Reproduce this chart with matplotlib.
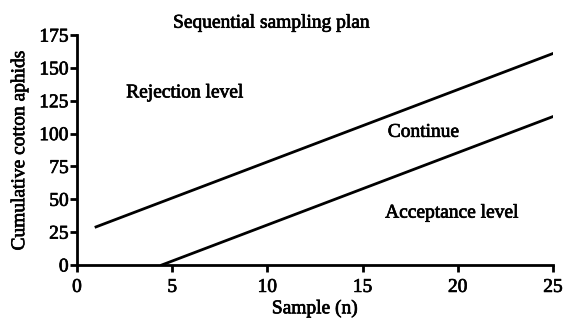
import matplotlib
matplotlib.use("Agg")
import matplotlib.pyplot as plt
import matplotlib.patheffects as pe

# Sequential sampling plan boundaries
upper_n = [1, 25]
upper_y = [29, 161]
lower_n = [4.45, 25]
lower_y = [0, 113]

x_ticks = [0, 5, 10, 15, 20, 25]
y_ticks = [0, 25, 50, 75, 100, 125, 150, 175]

plt.rcParams["font.family"] = ["Liberation Serif", "DejaVu Serif"]
FS = 14
heavy = [pe.withStroke(linewidth=0.5, foreground="black")]

fig = plt.figure(figsize=(5.66, 3.22), dpi=100)
ax = fig.add_axes([0.136, 0.177, 0.841, 0.714])

ax.plot(upper_n, upper_y, color="black", lw=2)
ax.plot(lower_n, lower_y, color="black", lw=2)

ax.set_xlim(0, 25)
ax.set_ylim(0, 175)
ax.set_xticks(x_ticks)
ax.set_yticks(y_ticks)
ax.spines["top"].set_visible(False)
ax.spines["right"].set_visible(False)
for s in ("left", "bottom"):
    ax.spines[s].set_linewidth(2)
ax.tick_params(width=2, length=5, labelsize=FS)
ax.tick_params(axis="x", pad=5)
ax.tick_params(axis="y", pad=1)
for lab in ax.get_xticklabels() + ax.get_yticklabels():
    lab.set_path_effects(heavy)

ax.set_xlabel("Sample (n)", fontsize=FS, labelpad=3, path_effects=heavy)
ax.set_ylabel("Cumulative cotton aphids", fontsize=FS, labelpad=8, path_effects=heavy)
fig.text(0.48, 0.928, "Sequential sampling plan", fontsize=FS,
         ha="center", va="center", path_effects=heavy)

ax.text(5.67, 131, "Rejection level", fontsize=FS, ha="center", va="center", path_effects=heavy)
ax.text(18.2, 101, "Continue", fontsize=FS, ha="center", va="center", path_effects=heavy)
ax.text(19.7, 39.5, "Acceptance level", fontsize=FS, ha="center", va="center", path_effects=heavy)

fig.savefig("out.png", dpi=100)
